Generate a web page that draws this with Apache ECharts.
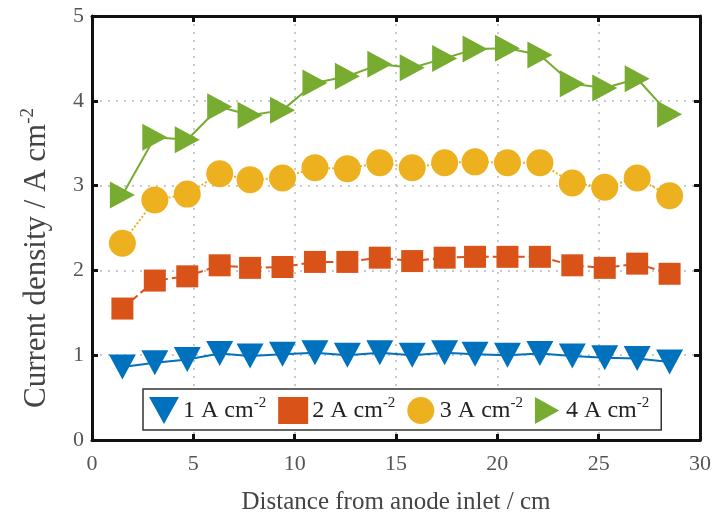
<!DOCTYPE html>
<html><head><meta charset="utf-8">
<script src="https://cdn.jsdelivr.net/npm/echarts@6/dist/echarts.min.js"></script>
<style>html,body{margin:0;padding:0;background:#fff}#c{width:712px;height:513px}</style>
</head><body><div id="c"></div>
<script>
const distance = [1.5, 3.1, 4.7, 6.3, 7.8, 9.4, 11.0, 12.6, 14.2, 15.8, 17.4, 18.9, 20.5, 22.1, 23.7, 25.3, 26.9, 28.5];
const s1 = [0.86, 0.91, 0.95, 1.02, 0.99, 1.01, 1.03, 1.00, 1.03, 1.00, 1.03, 1.01, 1.00, 1.02, 0.99, 0.97, 0.96, 0.92];
const s2 = [1.55, 1.88, 1.93, 2.06, 2.03, 2.04, 2.10, 2.10, 2.15, 2.11, 2.15, 2.16, 2.16, 2.16, 2.06, 2.03, 2.08, 1.96];
const s3 = [2.32, 2.83, 2.90, 3.14, 3.07, 3.09, 3.21, 3.20, 3.27, 3.21, 3.27, 3.28, 3.27, 3.27, 3.03, 2.98, 3.09, 2.88];
const s4 = [2.89, 3.57, 3.54, 3.93, 3.83, 3.89, 4.21, 4.29, 4.43, 4.39, 4.50, 4.61, 4.62, 4.54, 4.20, 4.15, 4.26, 3.84];
const names = ['1 A cm-2', '2 A cm-2', '3 A cm-2', '4 A cm-2'];
const colors = ['#0072BD', '#D95319', '#EDB120', '#77AC30'];
const xTicks = [0, 5, 10, 15, 20, 25, 30];
const yTicks = [0, 1, 2, 3, 4, 5];

const downTri = 'path://M0,0 L10,0 L5,9 Z';
const rightTri = 'path://M0,0 L9,5 L0,10 Z';
const symbols = [downTri, 'rect', 'circle', rightTri];
const symSizes = [[27, 25], 22, 27, [25, 27]];
const lineTypes = ['solid', 'dashed', 'dotted', 'solid'];
const allData = [s1, s2, s3, s4];

const font = 'Liberation Serif';
const chart = echarts.init(document.getElementById('c'));
const axisCommon = {
  type: 'value', min: 0,
  axisLine: {show: true, onZero: false, lineStyle: {color: '#111', width: 3}},
  axisTick: {show: true, inside: true, length: 6, lineStyle: {color: '#111', width: 3}},
};
const grid = {color: '#c6c8d2', type: [2, 6], width: 2};
chart.setOption({
  animation: false,
  grid: {left: 92, right: 12, top: 16, bottom: 73, containLabel: false, outerBoundsMode: 'none'},
  xAxis: [
    Object.assign({}, axisCommon, {max: 30, interval: 5, position: 'bottom',
      axisLabel: {color: '#555', fontFamily: font, fontSize: 22, margin: 13},
      splitLine: {show: true, lineStyle: grid},
      name: 'Distance from anode inlet / cm', nameLocation: 'middle', nameGap: 50,
      nameTextStyle: {color: '#444', fontFamily: font, fontSize: 25}}),
    Object.assign({}, axisCommon, {max: 30, interval: 5, position: 'top',
      axisLabel: {show: false}, splitLine: {show: false}})
  ],
  yAxis: [
    Object.assign({}, axisCommon, {max: 5, interval: 1, position: 'left',
      axisLabel: {color: '#555', fontFamily: font, fontSize: 22, margin: 8},
      splitLine: {show: true, lineStyle: grid},
      name: '{a|Current density / A cm}{s|-2}', nameLocation: 'middle', nameGap: 38,
      nameTextStyle: {color: '#444', fontFamily: font, fontSize: 31, padding: [0, 60, 0, 0],
        rich: {a: {fontFamily: font, fontSize: 31, color: '#444'},
               s: {fontFamily: font, fontSize: 19, color: '#444', verticalAlign: 'top', padding: [0, 0, 16, 0]}}}}),
    Object.assign({}, axisCommon, {max: 5, interval: 1, position: 'right',
      axisLabel: {show: false}, splitLine: {show: false}})
  ],
  legend: {
    left: 143, top: 389,
    orient: 'horizontal', itemGap: 12, itemWidth: 30, itemHeight: 27,
    padding: [7, 12, 6, 6],
    borderColor: '#333', borderWidth: 1.5, backgroundColor: '#fff',
    data: names.map((n, i) => ({name: n, icon: symbols[i]})),
    formatter: n => '{a|' + n.replace('-2', '') + '}{s|-2}',
    textStyle: {fontFamily: font, fontSize: 24, color: '#222', padding: [0, 0, 0, -1],
      rich: {a: {fontFamily: font, fontSize: 24, color: '#222'},
             s: {fontFamily: font, fontSize: 15, color: '#222', verticalAlign: 'top', padding: [0, 0, 14, 0]}}}
  },
  series: allData.map((arr, i) => ({
    name: names[i], type: 'line', xAxisIndex: 0, yAxisIndex: 0,
    data: arr.map((v, j) => [distance[j], v]),
    symbol: symbols[i], symbolSize: symSizes[i], showAllSymbol: true,
    itemStyle: {color: colors[i], opacity: 1},
    lineStyle: {color: colors[i], width: 2, type: lineTypes[i]},
    z: 3 + i
  }))
});
</script></body></html>
